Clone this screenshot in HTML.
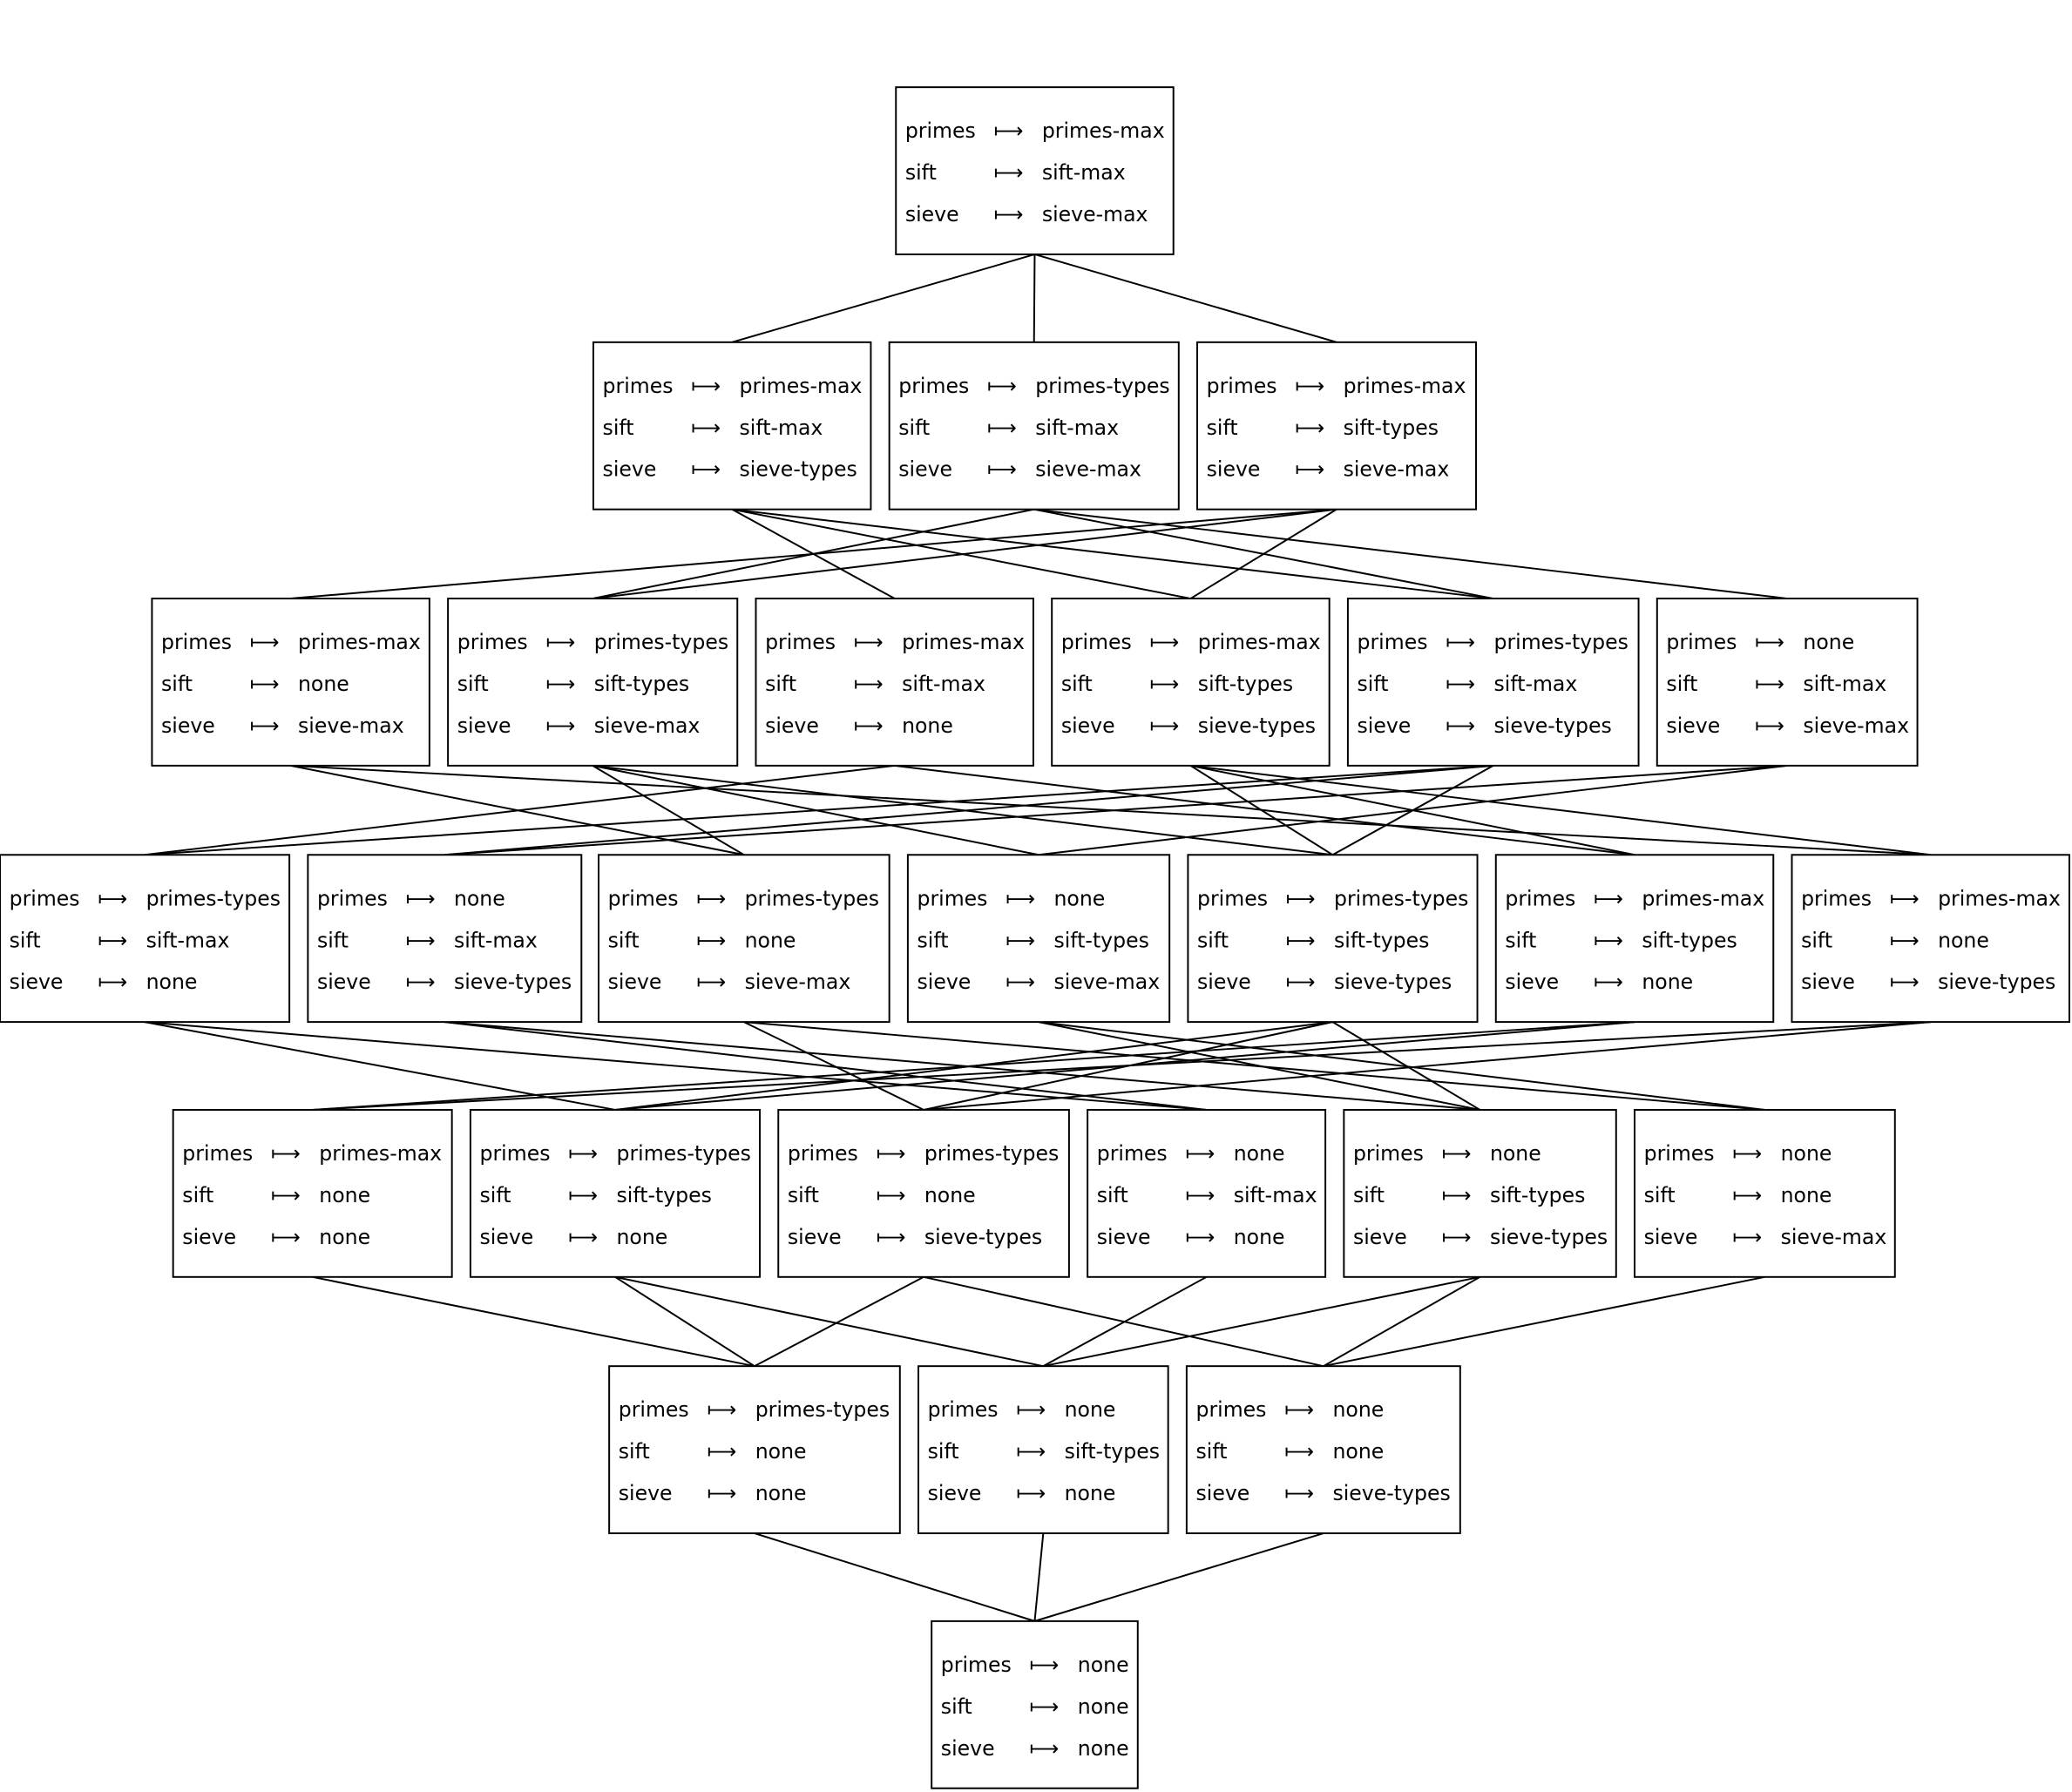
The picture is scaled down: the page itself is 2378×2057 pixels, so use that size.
<!DOCTYPE html>
<html><head><meta charset="utf-8">
<style>
html,body{margin:0;padding:0;background:#fff;}
svg{display:block;}
text{font-family:"DejaVu Sans","Liberation Sans",sans-serif;font-size:15.55px;fill:#000;}
</style></head>
<body>
<svg id="s" xmlns="http://www.w3.org/2000/svg" width="2378" height="2057" viewBox="0 0 1568 1356.3"></svg>
<script>
const rows=[
 [66,[[678,888,"MMM"]]],
 [259,[[449,659,"MMT"],[673,892,"TMM"],[906,1117,"MTM"]]],
 [453,[[115,325,"MNM"],[339,558,"TTM"],[572,782,"MMN"],[796,1006,"MTT"],[1020,1240,"TMT"],[1254,1451,"NMM"]]],
 [647,[[0,219,"TMN"],[233,440,"NMT"],[453,673,"TNM"],[687,885,"NTM"],[899,1118,"TTT"],[1132,1342,"MTN"],[1356,1566,"MNT"]]],
 [840,[[131,342,"MNN"],[356,575,"TTN"],[589,809,"TNT"],[823,1003,"NMN"],[1017,1223,"NTT"],[1237,1434,"NNM"]]],
 [1034,[[461,681,"TNN"],[695,884,"NTN"],[898,1105,"NNT"]]],
 [1227,[[705,861,"NNN"]]]
];
const H=126.5, names=["primes","sift","sieve"], lv={M:2,T:1,N:0};
const nodes=[];
rows.forEach(([y,bs])=>bs.forEach(([a,b,c])=>nodes.push({x1:a,x2:b,y:y,c:c,v:[...c].map(ch=>lv[ch])})));
const ge=(u,v)=>u.v.every((x,i)=>x>=v.v[i]);
const gt=(u,v)=>ge(u,v)&&u.c!==v.c;
let out="";
for(const u of nodes)for(const v of nodes){
 if(!gt(u,v))continue;
 if(nodes.some(w=>gt(u,w)&&gt(w,v)))continue;
 out+=`<line x1="${(u.x1+u.x2)/2}" y1="${u.y+H}" x2="${(v.x1+v.x2)/2}" y2="${v.y}" stroke="#000" stroke-width="1.3"/>`;
}
for(const n of nodes){
 out+=`<rect x="${n.x1}" y="${n.y}" width="${n.x2-n.x1}" height="${H}" fill="#fff" stroke="#000" stroke-width="1.3"/>`;
 for(let i=0;i<3;i++){
  const by=n.y+38.3+i*31.6;
  const val=n.c[i]==="M"?names[i]+"-max":n.c[i]==="T"?names[i]+"-types":"none";
  out+=`<text x="${n.x1+7}" y="${by}">${names[i]}</text><text x="${n.x1+74}" y="${by}">⟼</text><text x="${n.x1+110.5}" y="${by}">${val}</text>`;
 }
}
document.getElementById("s").innerHTML=out;
</script>
</body></html>
